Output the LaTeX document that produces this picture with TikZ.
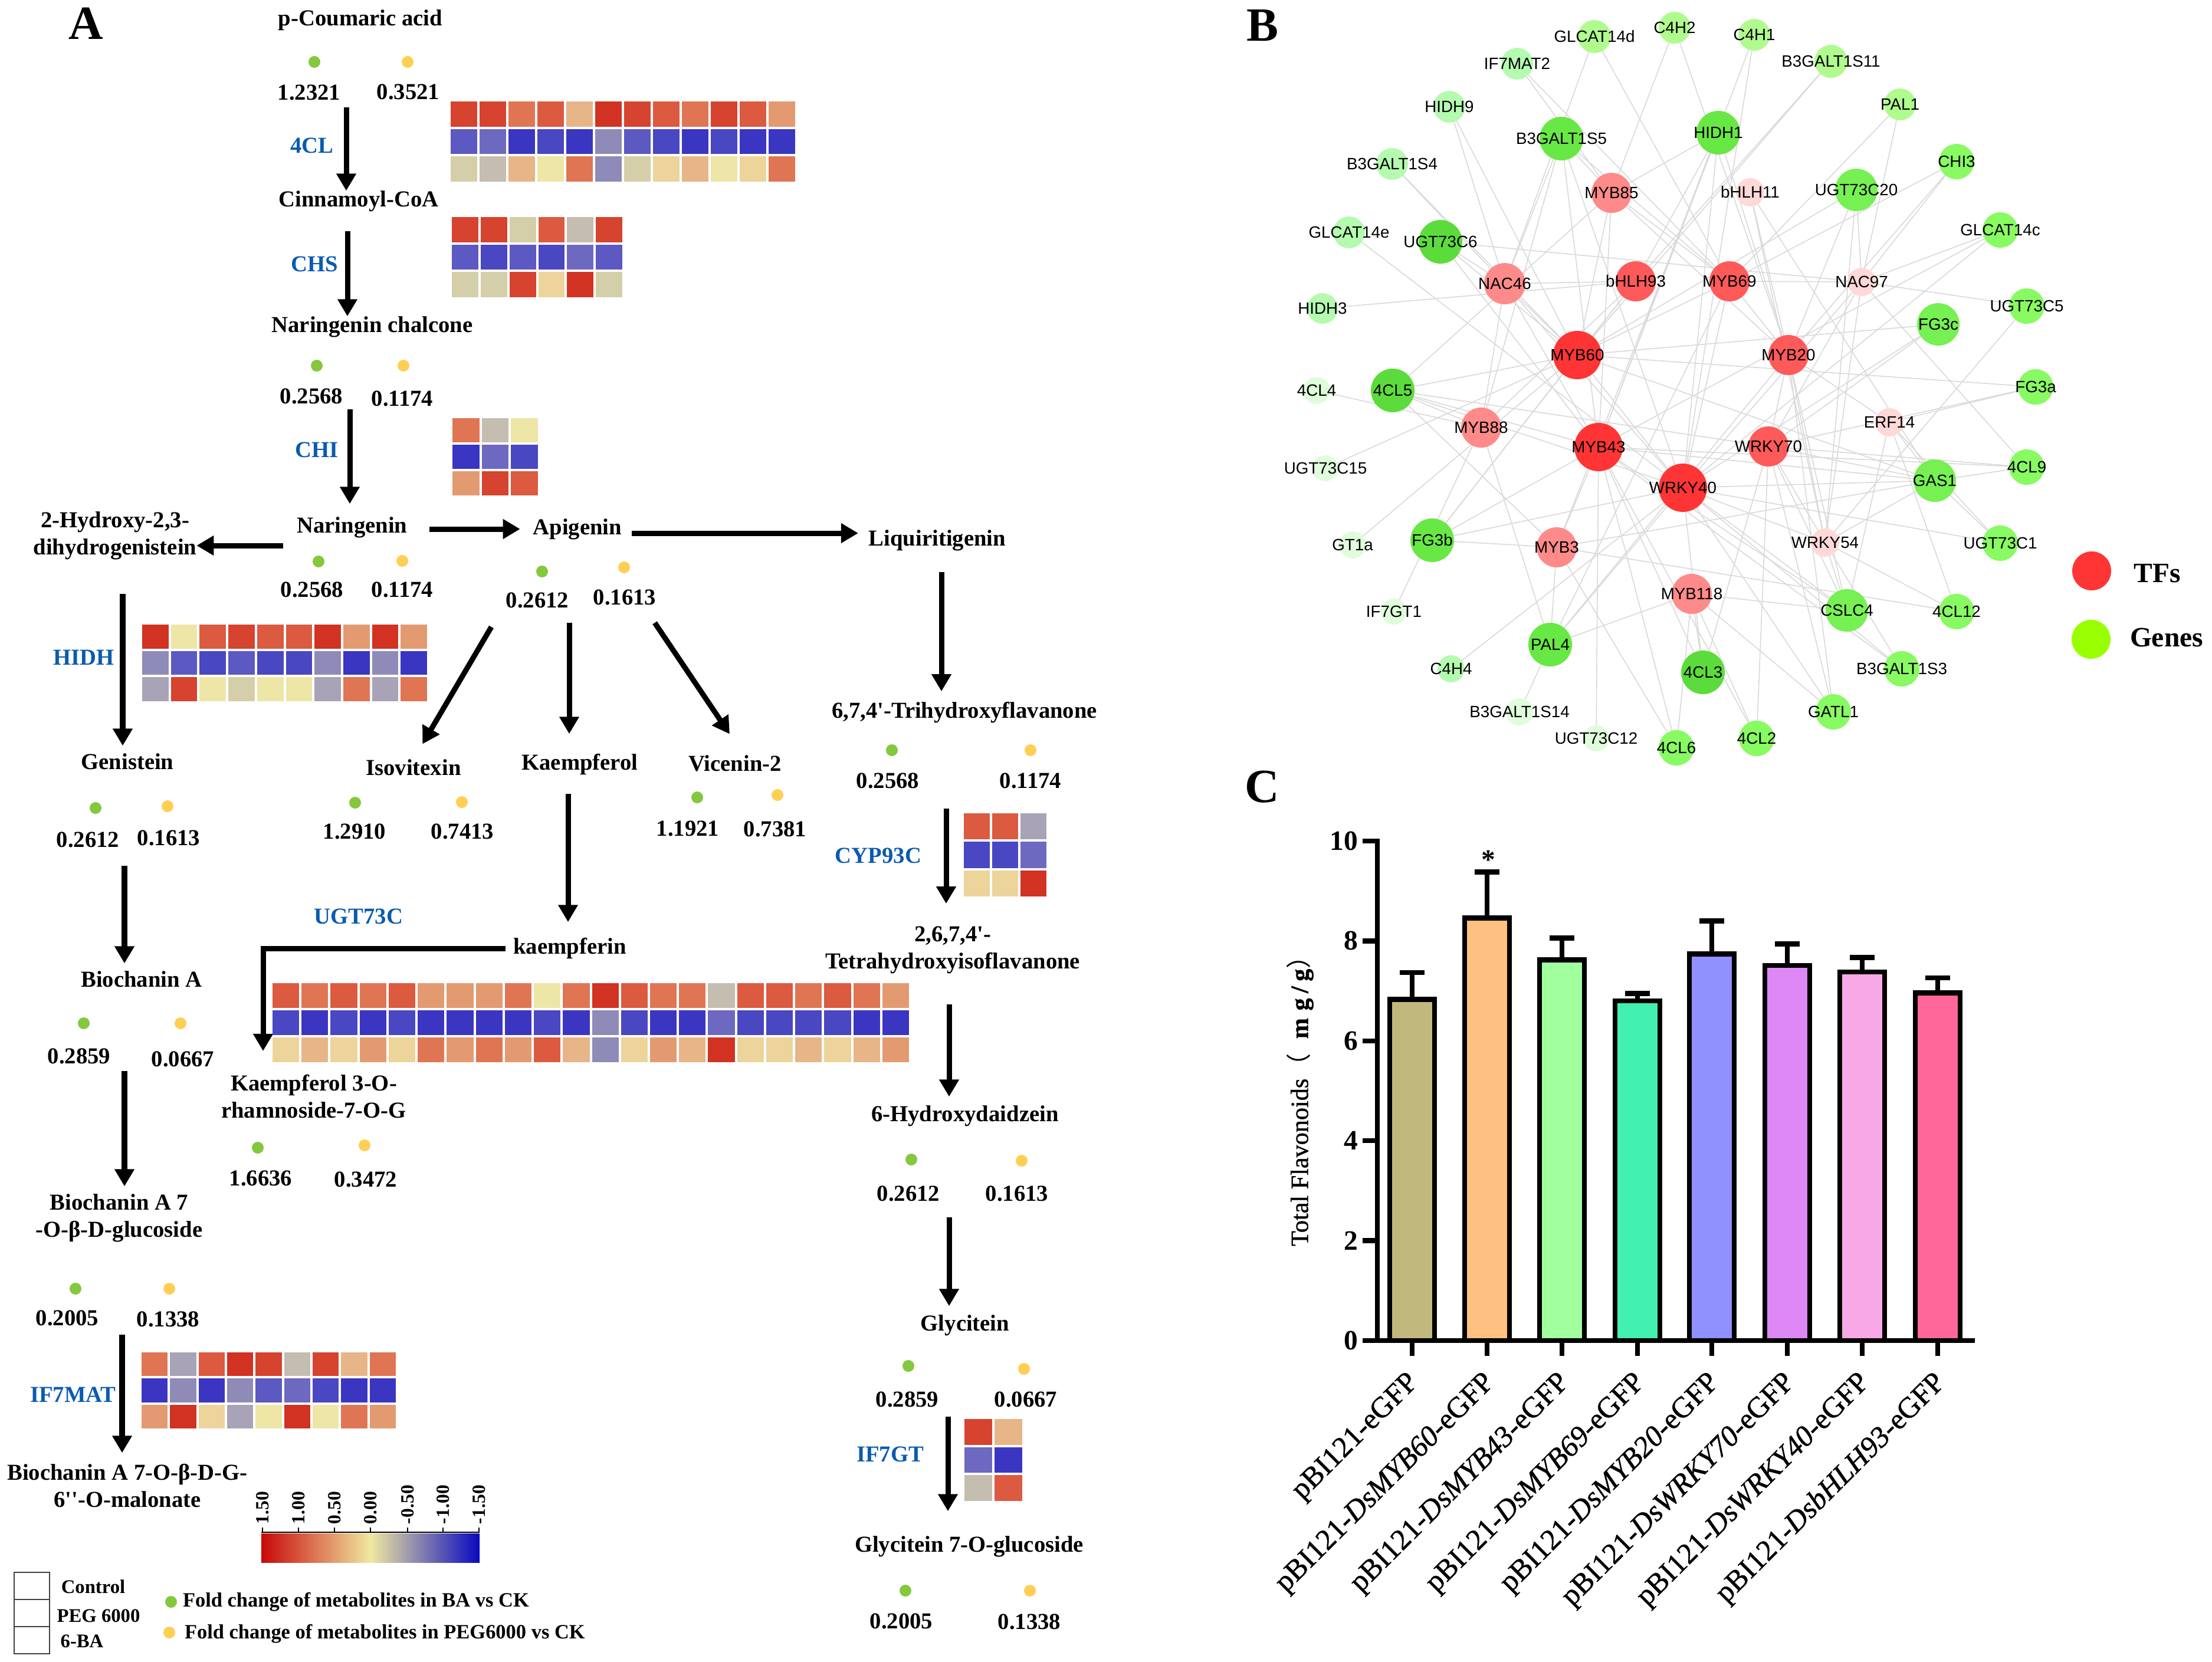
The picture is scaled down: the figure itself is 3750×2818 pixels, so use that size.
\documentclass[tikz,border=0pt]{standalone}
\usepackage{fontspec}
\setmainfont{Liberation Serif}[Ligatures=TeXOff]
\newfontfamily\netfont{Liberation Sans}
\newfontfamily\barfont{Liberation Serif}[FakeBold=1,ItalicFeatures={FakeBold=1}]
\newfontfamily\cjkfont{Noto Sans CJK SC}
\usetikzlibrary{arrows.meta,backgrounds}
% heat map colours, red to blue
\definecolor{hma}{HTML}{D23222}\definecolor{hmb}{HTML}{D6432F}\definecolor{hmc}{HTML}{DC5A40}
\definecolor{hmd}{HTML}{E07554}\definecolor{hme}{HTML}{E39A70}\definecolor{hmf}{HTML}{E7B588}
\definecolor{hmg}{HTML}{ECD49B}\definecolor{hmh}{HTML}{EDE6A6}\definecolor{hmi}{HTML}{D4CFA8}
\definecolor{hmj}{HTML}{C4BDB0}\definecolor{hmk}{HTML}{A9A3B8}\definecolor{hml}{HTML}{8F8BB8}
\definecolor{hmm}{HTML}{6D69C0}\definecolor{hmn}{HTML}{5C59C2}\definecolor{hmo}{HTML}{4A47C2}
\definecolor{hmp}{HTML}{3A36C2}
% network colours
\definecolor{ta}{HTML}{FF3535}\definecolor{tb}{HTML}{FF5A5A}\definecolor{tc}{HTML}{FF8A8A}\definecolor{td}{HTML}{FFD8D8}
\definecolor{ga}{HTML}{5CDC3C}\definecolor{gb}{HTML}{68E844}\definecolor{gc}{HTML}{76F052}\definecolor{gd}{HTML}{88FA62}
\definecolor{ge}{HTML}{B0FB8E}\definecolor{gf}{HTML}{B4FBB0}\definecolor{gg}{HTML}{DFFDDB}
\definecolor{badotc}{HTML}{84C83E}\definecolor{pegdotc}{HTML}{FFCF55}\definecolor{genekey}{HTML}{99FF00}
\definecolor{enzymec}{HTML}{0A5BB0}
\definecolor{scaler}{HTML}{C80808}\definecolor{scalem}{HTML}{F0E8A0}\definecolor{scaleb}{HTML}{0808C0}
% x0, y0, x1, y1, columns, three rows of cells
\newcommand{\heatmap}[8]{%
  \pgfmathsetmacro{\hmw}{(#3-#1+4)/#5}%
  \pgfmathsetmacro{\hmh}{(#4-#2-8)/3}%
  \foreach \rowlist [count=\r from 0] in {{#6},{#7},{#8}}
    \foreach \cl [count=\k from 0] in \rowlist
      \fill[hm\cl] ({#1+\k*\hmw},{#2+\r*(\hmh+4)}) rectangle ({#1+(\k+1)*\hmw-4},{#2+\r*(\hmh+4)+\hmh});%
}
\begin{document}
\begin{tikzpicture}[x=0.01cm,y=-0.01cm,inner sep=0pt,outer sep=0pt,
panel/.style={font=\bfseries\fontsize{23}{23}\selectfont},
chem/.style={font=\bfseries\fontsize{11}{13}\selectfont,align=center,yshift=-0.02cm},
fcval/.style={font=\bfseries\fontsize{11}{13}\selectfont},
enzyme/.style={font=\bfseries\fontsize{11}{13}\selectfont,text=enzymec},
badot/.style={circle,fill=badotc,minimum size=0.2cm},
pegdot/.style={circle,fill=pegdotc,minimum size=0.2cm},
flow/.style={line width=0.09cm,-{Triangle[length=0.29cm,width=0.32cm]}},
keybox/.style={draw=black!75,line width=0.015cm,minimum width=0.6cm,minimum height=0.46cm},
keytext/.style={font=\bfseries\fontsize{9.3}{11}\selectfont},
foldtext/.style={font=\bfseries\fontsize{9.8}{11}\selectfont,anchor=west},
netnode/.style={circle},
netlabel/.style={font=\netfont\fontsize{7.9}{9}\selectfont},
netedge/.style={draw=black!15,line width=0.016cm},
barline/.style={line width=0.085cm},
axisnum/.style={font=\bfseries\fontsize{13.5}{14}\selectfont},
barname/.style={font=\barfont\fontsize{14.2}{15}\selectfont,rotate=45,anchor=east}]
\useasboundingbox (0,0) rectangle (3750,2818);
\draw (146,40) node[panel] (lettA) {A};
\draw (2140,43) node[panel] (lettB) {B};
\draw (2140,1334) node[panel] (lettC) {C};
% panel A, metabolites
\draw (611,32) node[chem] (pcoum) {p-Coumaric acid};
\draw (608,339) node[chem] (cinna) {Cinnamoyl-CoA};
\draw (631,552) node[chem] (nchal) {Naringenin chalcone};
\draw (597,892) node[chem] (narin) {Naringenin};
\draw (979,895) node[chem] (apig) {Apigenin};
\draw (195,906) node[chem] (dihyd) {2-Hydroxy-2,3-\\dihydrogenistein};
\draw (1589,914) node[chem] (liqui) {Liquiritigenin};
\draw (1635,1206) node[chem] (trihy) {6,7,4'-Trihydroxyflavanone};
\draw (1615,1609) node[chem] (tetra) {2,6,7,4'-\\Tetrahydroxyisoflavanone};
\draw (216,1289) node[chem] (genis) {Genistein};
\draw (701,1299) node[chem] (isovi) {Isovitexin};
\draw (983,1294) node[chem] (kaemp) {Kaempferol};
\draw (1246,1292) node[chem] (vicen) {Vicenin-2};
\draw (966,1606) node[chem] (kpfin) {kaempferin};
\draw (240,1658) node[chem] (bioca) {Biochanin A};
\draw (532,1857) node[chem] (kgluc) {Kaempferol 3-O-\\rhamnoside-7-O-G};
\draw (1636,1890) node[chem] (hydro) {6-Hydroxydaidzein};
\draw (202,2063) node[chem] (biogl) {Biochanin A 7\\-O-β-D-glucoside};
\draw (1636,2245) node[chem] (glyci) {Glycitein};
\draw (216,2517) node[chem] (biomal) {Biochanin A 7-O-β-D-G-\\6''-O-malonate};
\draw (1643,2620) node[chem] (glygl) {Glycitein 7-O-glucoside};
% enzymes
\foreach \x/\y/\t in {529/247/4CL,533/448/CHS,537/763/CHI,142/1115/HIDH,608/1554/UGT73C,1489/1451/CYP93C,124/2365/IF7MAT,1509/2466/IF7GT}
  \draw (\x,\y) node[enzyme] (\t) {\t};
% fold change dots and values
\foreach \x/\y [count=\n] in {533/105,537/620,540/952,919/969,162/1370,602/1361,1182/1352,142/1735,437/1946,128/2185,1512/1272,1545/1966,1540/2316,1535/2697}
  \draw (\x,\y) node[badot] (ba\n) {};
\foreach \x/\y [count=\n] in {691/105,684/620,682/951,1058/962,284/1367,783/1360,1318/1348,306/1735,618/1942,287/2185,1747/1272,1732/1968,1736/2321,1746/2697}
  \draw (\x,\y) node[pegdot] (peg\n) {};
\foreach \x/\y/\t [count=\n] in {524/157/1.2321,692/156/0.3521,528/672/0.2568,682/676/0.1174,529/1000/0.2568,682/1000/0.1174,911/1018/0.2612,1059/1013/0.1613,149/1424/0.2612,286/1421/0.1613,601/1410/1.2910,784/1410/0.7413,1166/1405/1.1921,1314/1406/0.7381,134/1791/0.2859,310/1796/0.0667,442/1998/1.6636,620/2000/0.3472,114/2235/0.2005,285/2237/0.1338,1505/1324/0.2568,1747/1324/0.1174,1540/2024/0.2612,1724/2024/0.1613,1538/2373/0.2859,1739/2373/0.0667,1528/2749/0.2005,1745/2750/0.1338}
  \draw (\x,\y) node[fcval] (fc\n) {\t};
% vertical steps of the pathway, gap to the text in px
\foreach \s/\x/\y/\t/\g in {f1/587/182/cinna/0,f2/589/392/nchal/0,f3/593/694/narin/22,f4/208/1007/genis/13,f5/965/1056/kaemp/34,f6/963/1346/kpfin/27,f7/211/1468/bioca/13,f8/211/1816/biogl/13,f9/207/2263/biomal/19,f10/1596/970/trihy/18,f11/1604/1371/tetra/39,f12/1609/1703/hydro/15,f13/1609/2064/glyci/15,f14/1607/2402/glygl/42}{
  \coordinate (\s) at (\x,\y);
  \draw[flow,shorten >=\g*0.01cm] (\s) -- (\s |- \t.north);
}
\coordinate (fapi) at (728,897);
\coordinate (fdih) at (480,925);
\coordinate (fliq) at (1071,904);
\coordinate (fiso) at (833,1063);
\coordinate (fvic) at (1110,1056);
\coordinate (fkgl) at (857,1608);
\coordinate (tkgl) at (446,1782);
\draw[flow,shorten >=0.22cm] (fapi) -- (fapi -| apig.west);
\draw[flow] (fdih) -- (fdih -| dihyd.east);
\draw[flow,shorten >=0.18cm] (fliq) -- (fliq -| liqui.west);
\draw[flow,shorten >=0.3cm] (fiso) -- (isovi.north);
\draw[flow,shorten >=0.43cm] (fvic) -- ([xshift=0.15cm]vicen.north);
\draw[flow] (fkgl) -| (tkgl);
% heat maps
\heatmap{764}{172}{1348}{308}{12}{b,b,d,c,f,a,b,c,d,b,c,e}{n,m,p,o,p,l,n,o,p,o,p,p}{i,j,f,h,d,l,i,g,f,h,g,d}
\heatmap{766}{368}{1055}{504}{6}{b,b,i,c,j,b}{n,o,n,o,m,n}{i,i,b,g,a,i}
\heatmap{767}{709}{912}{840}{3}{d,j,h}{p,m,o}{e,b,c}
\heatmap{241}{1059}{724}{1189}{10}{a,h,c,b,c,c,a,e,a,e}{l,n,o,n,o,o,l,p,l,p}{k,b,h,i,h,h,k,d,k,d}
\heatmap{462}{1667}{1541}{1801}{22}{c,d,c,d,c,e,e,e,d,h,d,a,c,d,d,j,c,c,d,c,d,e}{o,p,o,p,o,p,p,p,p,o,p,l,o,p,p,m,o,o,o,o,p,p}{g,f,g,e,g,d,e,d,e,c,f,l,g,e,f,a,g,g,f,g,f,e}
\heatmap{1634}{1379}{1774}{1520}{3}{c,c,k}{o,o,m}{g,g,a}
\heatmap{240}{2293}{671}{2422}{9}{d,k,c,a,b,j,b,f,d}{p,l,p,l,n,m,o,p,p}{e,a,g,k,h,a,h,d,e}
\heatmap{1635}{2406}{1733}{2545}{2}{b,f}{m,p}{j,c}
% colour scale
\shade[left color=scaler,right color=scaleb,middle color=scalem] (443,2600) rectangle (813,2649);
\draw[line width=0.02cm] (443,2598) -- (813,2598);
\foreach \x/\t [count=\n] in {445/1.50,506/1.00,567/0.50,628/0.00,691/-0.50,751/-1.00,812/-1.50}{
  \draw[line width=0.02cm] (\x,2598) -- (\x,2590);
  \draw (\x,2584) node[rotate=90,anchor=west,font=\bfseries\fontsize{9}{9}\selectfont] (scale\n) {\t};
}
% key
\draw (54,2689) node[keybox] (boxa) {};
\draw (54,2735) node[keybox] (boxb) {};
\draw (54,2781) node[keybox] (boxc) {};
\draw (158,2690) node[keytext] (keya) {Control};
\draw (167,2740) node[keytext] (keyb) {PEG 6000};
\draw (139,2783) node[keytext] (keyc) {6-BA};
\draw (290,2716) node[badot] (keyba) {};
\draw (287,2768) node[pegdot] (keypeg) {};
\draw (310,2716) node[foldtext] (keyd) {Fold change of metabolites in BA vs CK};
\draw (313,2770) node[foldtext] (keye) {Fold change of metabolites in PEG6000 vs CK};
% panel B
\foreach \t/\x/\y/\r/\cl in {GLCAT14d/2703/62/28/ge,C4H2/2839/47/27/ge,C4H1/2974/59/27/ge,IF7MAT2/2572/108/27/gf,B3GALT1S11/3104/104/28/ge,HIDH9/2457/181/27/gf,PAL1/3221/177/27/ge,B3GALT1S5/2647/235/37/gb,HIDH1/2913/225/37/gb,B3GALT1S4/2360/278/27/gf,CHI3/3317/274/30/gd,MYB85/2732/327/34/tc,bHLH11/2967/326/24/td,UGT73C20/3147/322/36/gc,GLCAT14e/2287/394/27/gf,UGT73C6/2442/410/37/ga,GLCAT14c/3391/390/30/gd,NAC46/2551/481/35/tc,bHLH93/2773/477/34/tb,MYB69/2932/477/34/tb,NAC97/3156/478/24/td,HIDH3/2242/523/26/gf,UGT73C5/3436/519/30/gd,FG3c/3286/550/36/gc,MYB60/2674/602/41/ta,MYB20/3032/602/34/tb,4CL4/2232/662/23/gg,4CL5/2361/662/37/ga,FG3a/3451/656/30/gd,MYB88/2511/725/34/tc,ERF14/3203/716/24/td,MYB43/2710/758/41/ta,WRKY70/2998/757/34/tb,UGT73C15/2247/794/22/gg,4CL9/3436/792/30/gd,GAS1/3280/815/36/gc,WRKY40/2853/827/41/ta,GT1a/2293/924/23/gg,FG3b/2428/916/37/gb,MYB3/2639/928/34/tc,WRKY54/3094/920/24/td,UGT73C1/3391/921/30/gd,IF7GT1/2363/1037/22/gg,MYB118/2868/1007/34/tc,CSLC4/3131/1035/36/gc,4CL12/3317/1037/30/gd,PAL4/2628/1093/37/gb,C4H4/2460/1134/23/gf,4CL3/2887/1140/37/ga,B3GALT1S3/3224/1134/30/gd,B3GALT1S14/2576/1207/23/gg,GATL1/3108/1207/30/gd,UGT73C12/2706/1252/22/gg,4CL2/2978/1252/30/gd,4CL6/2842/1268/30/gd}
  \draw (\x,\y) node[netnode,fill=\cl,minimum size={2*\r*0.01cm},label={[netlabel]center:\t}] (\t) {};
\begin{scope}[on background layer]
\foreach \a/\b in {GLCAT14d/NAC46,GLCAT14d/MYB69,C4H2/MYB85,C4H2/MYB20,C4H1/MYB43,C4H1/WRKY40,IF7MAT2/MYB69,IF7MAT2/MYB85,B3GALT1S11/bHLH93,B3GALT1S11/MYB60,HIDH9/NAC46,HIDH9/MYB60,PAL1/NAC97,PAL1/MYB69,B3GALT1S5/NAC46,B3GALT1S5/MYB88,B3GALT1S5/MYB85,B3GALT1S5/MYB43,B3GALT1S5/MYB69,B3GALT1S5/WRKY40,HIDH1/MYB85,HIDH1/MYB43,HIDH1/bHLH93,HIDH1/WRKY40,HIDH1/MYB3,HIDH1/MYB20,B3GALT1S4/NAC46,B3GALT1S4/MYB60,CHI3/NAC97,CHI3/MYB69,CHI3/MYB20,UGT73C20/NAC97,UGT73C20/WRKY54,UGT73C20/MYB60,UGT73C20/MYB20,bHLH11/MYB20,bHLH11/WRKY54,bHLH11/GAS1,GLCAT14e/WRKY40,UGT73C6/NAC97,UGT73C6/MYB60,UGT73C6/MYB43,UGT73C6/NAC46,GLCAT14c/NAC97,GLCAT14c/MYB43,GLCAT14c/WRKY40,HIDH3/bHLH93,UGT73C5/NAC97,UGT73C5/WRKY54,FG3c/MYB60,FG3c/WRKY70,FG3c/WRKY40,4CL5/MYB60,4CL5/MYB88,4CL5/MYB43,4CL5/WRKY40,4CL5/WRKY70,4CL5/MYB3,4CL5/MYB85,4CL4/MYB88,MYB88/PAL4,MYB88/NAC46,FG3a/MYB60,FG3a/ERF14,FG3a/WRKY70,ERF14/MYB20,ERF14/GAS1,ERF14/CSLC4,4CL9/GAS1,4CL9/WRKY70,4CL9/NAC97,4CL9/MYB43,UGT73C15/MYB60,GT1a/MYB60,FG3b/MYB43,FG3b/MYB60,FG3b/bHLH93,FG3b/MYB3,FG3b/WRKY40,IF7GT1/MYB88,MYB3/4CL12,MYB3/MYB43,MYB3/4CL6,MYB3/GAS1,MYB3/PAL4,WRKY40/CSLC4,WRKY40/4CL3,WRKY40/PAL4,WRKY40/GATL1,WRKY40/WRKY54,WRKY40/GAS1,MYB43/4CL3,MYB43/4CL2,MYB43/4CL6,MYB43/CSLC4,MYB43/GAS1,MYB118/PAL4,MYB118/CSLC4,MYB118/4CL2,MYB118/4CL3,MYB118/4CL6,MYB118/GATL1,WRKY70/GAS1,WRKY70/4CL2,WRKY70/GATL1,WRKY70/CSLC4,WRKY70/4CL3,WRKY70/WRKY54,MYB20/CSLC4,MYB20/WRKY54,MYB20/GATL1,MYB20/WRKY70,MYB20/PAL4,WRKY54/CSLC4,WRKY54/4CL12,WRKY54/GAS1,WRKY54/B3GALT1S3,B3GALT1S3/WRKY40,B3GALT1S3/MYB43,UGT73C1/GAS1,UGT73C1/ERF14,UGT73C1/WRKY40,4CL12/ERF14,C4H4/WRKY40,B3GALT1S14/PAL4,UGT73C12/MYB43,NAC46/MYB60,NAC46/WRKY40,NAC46/MYB43,NAC46/bHLH93,bHLH93/MYB60,bHLH93/MYB88,MYB85/MYB69,MYB85/MYB20,MYB85/MYB43,MYB85/MYB60,MYB69/MYB20,MYB69/WRKY40,MYB69/MYB60,MYB69/NAC97,MYB69/PAL4,NAC97/WRKY40,NAC97/WRKY54,NAC97/WRKY70,MYB60/WRKY40,MYB60/GAS1}
  \draw[netedge] (\a) -- (\b);
\end{scope}
\draw (3546,968) node[netnode,fill=ta,minimum size=0.66cm] (keytf) {};
\draw (3545,1084) node[netnode,fill=genekey,minimum size=0.66cm] (keygene) {};
\draw (3657,972) node[font=\bfseries\fontsize{13.5}{14}\selectfont] (labtf) {TFs};
\draw (3673,1081) node[font=\bfseries\fontsize{13.5}{14}\selectfont] (labgene) {Genes};
% panel C
\foreach \x/\v/\e/\cl in {2394/6.83/7.37/C0B87C,2521/8.46/9.38/FFC080,2648/7.62/8.06/A2FF9E,2776/6.80/6.95/42F0B0,2902/7.74/8.40/9090FF,3030/7.51/7.94/DD88F5,3157/7.38/7.67/F7A8E5,3285/6.96/7.26/FF6699}{
  \definecolor{barcol}{HTML}{\cl}
  \draw[barline] (\x,{2273-84.7*\v}) -- (\x,{2273-84.7*\e});
  \draw[barline] (\x-21,{2273-84.7*\e}) -- (\x+21,{2273-84.7*\e});
  \draw[barline,fill=barcol] (\x-38,2273) rectangle (\x+38,{2273-84.7*\v});
  \draw[barline] (\x,2273) -- (\x,2299);
}
\draw[barline] (2310,2273) -- (3348,2273);
\draw[barline] (2335,2273) -- (2335,1422);
\foreach \v in {0,2,...,10}{
  \draw[barline] (2310,{2273-84.7*\v}) -- (2335,{2273-84.7*\v});
  \draw (2302,{2273-84.7*\v}) node[axisnum,anchor=east] (num\v) {\v};
}
\draw (2523,1458) node[axisnum] (star) {*};
\draw (2204,2113) node[rotate=90,anchor=west,font=\barfont\fontsize{12}{14}\selectfont] (ylab) {Total Flavonoids{\cjkfont（}\hspace{0.6em}\textbf{m\hspace{0.3em}g\hspace{0.2em}/\hspace{0.2em}g}{\cjkfont）}};
\foreach \x/\t [count=\n] in {2398/pBI121-eGFP,2527/pBI121-\textit{DsMYB60}-eGFP,2654/pBI121-\textit{DsMYB43}-eGFP,2782/pBI121-\textit{DsMYB69}-eGFP,2908/pBI121-\textit{DsMYB20}-eGFP,3036/pBI121-\textit{DsWRKY70}-eGFP,3163/pBI121-\textit{DsWRKY40}-eGFP,3291/pBI121-\textit{DsbHLH93}-eGFP}
  \draw (\x,2338) node[barname] (bar\n) {\t};
\end{tikzpicture}
\end{document}
